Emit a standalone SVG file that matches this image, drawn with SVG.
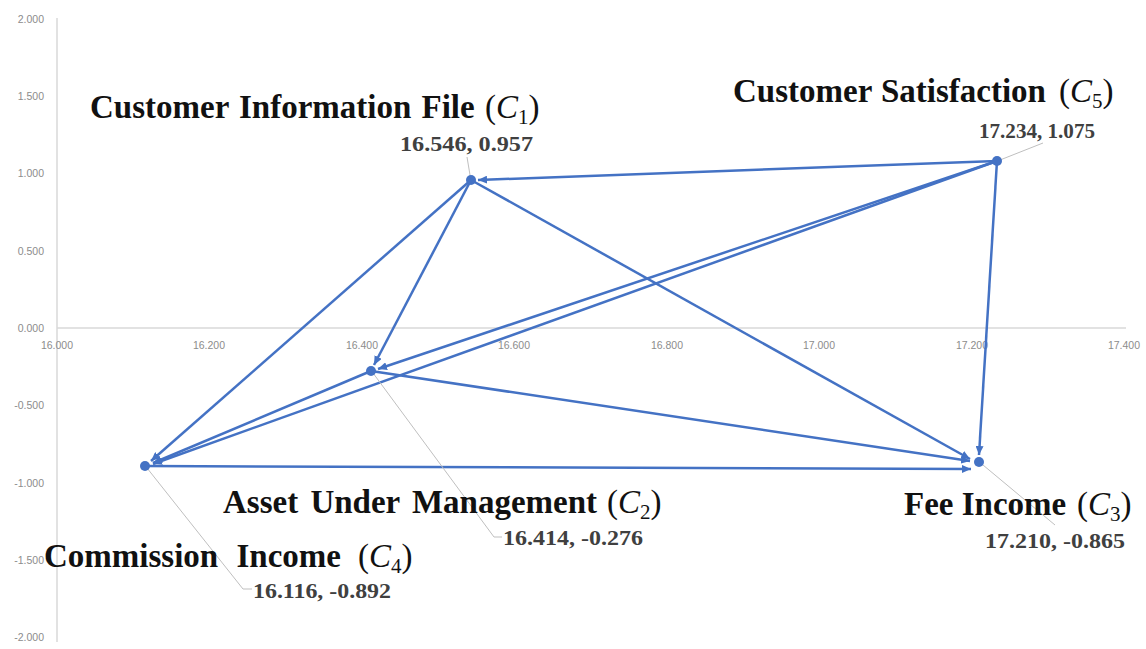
<svg xmlns="http://www.w3.org/2000/svg" width="1146" height="649" viewBox="0 0 1146 649">
<style>
.ax{stroke:#d9d9d9;stroke-width:1.5;fill:none}
.tk{font-family:"Liberation Sans",Arial,sans-serif;font-size:10.5px;fill:#8c8c8c}
.ty{text-anchor:end}
.tx{text-anchor:middle}
.e{stroke:#4472C4;stroke-width:2.5;fill:none;marker-end:url(#ah)}
.dot{fill:#4472C4}
.ld{stroke:#bfbfbf;stroke-width:1;fill:none}
.ttl{font-family:"Liberation Serif","Times New Roman",serif;font-weight:bold;font-size:33px;fill:#111}
.par{font-weight:normal}
.it{font-style:italic}
.val{font-family:"Liberation Serif","Times New Roman",serif;font-weight:bold;font-size:22px;fill:#404040}
</style>
<defs>
<marker id="ah" markerUnits="userSpaceOnUse" markerWidth="10" markerHeight="8" refX="9" refY="4" orient="auto">
<path d="M0,0 L9,4 L0,8 z" fill="#4472C4"/>
</marker>
</defs>
<rect width="1146" height="649" fill="#ffffff"/>
<g id="axes">
<line class="ax" x1="57" y1="18" x2="57" y2="642"/>
<line class="ax" x1="57" y1="328" x2="1126" y2="328"/>
<text class="tk ty" x="44" y="23">2.000</text>
<text class="tk ty" x="44" y="100">1.500</text>
<text class="tk ty" x="44" y="177">1.000</text>
<text class="tk ty" x="44" y="255">0.500</text>
<text class="tk ty" x="44" y="332">0.000</text>
<text class="tk ty" x="44" y="409">-0.500</text>
<text class="tk ty" x="44" y="487">-1.000</text>
<text class="tk ty" x="44" y="564">-1.500</text>
<text class="tk ty" x="44" y="641">-2.000</text>
<text class="tk tx" x="57" y="349">16.000</text>
<text class="tk tx" x="209" y="349">16.200</text>
<text class="tk tx" x="362" y="349">16.400</text>
<text class="tk tx" x="514" y="349">16.600</text>
<text class="tk tx" x="667" y="349">16.800</text>
<text class="tk tx" x="819" y="349">17.000</text>
<text class="tk tx" x="972" y="349">17.200</text>
<text class="tk tx" x="1124" y="349">17.400</text>
</g>
<g id="connectors">
<line class="e" x1="997" y1="161" x2="478" y2="180"/>
<line class="e" x1="471" y1="180" x2="151" y2="461"/>
<line class="e" x1="471" y1="180" x2="374" y2="365"/>
<line class="e" x1="471" y1="180" x2="970" y2="459"/>
<line class="e" x1="997" y1="161" x2="378" y2="369"/>
<line class="e" x1="997" y1="161" x2="153" y2="464"/>
<line class="e" x1="371" y1="371" x2="153" y2="463"/>
<line class="e" x1="371" y1="371" x2="970" y2="461"/>
<line class="e" x1="997" y1="161" x2="979" y2="455"/>
<line class="e" x1="145" y1="466" x2="971" y2="469"/>
</g>
<g id="C1">
<line class="ld" x1="470" y1="175" x2="467" y2="157"/>
<circle class="dot" cx="471" cy="180" r="5"/>
<text class="ttl" x="90" y="118" word-spacing="2">Customer Information File<tspan class="par" x="485">(</tspan><tspan class="par it">C</tspan><tspan class="par" font-size="21" dy="6">1</tspan><tspan class="par" dy="-6">)</tspan></text>
<text class="val" x="400" y="151" textLength="133" lengthAdjust="spacingAndGlyphs">16.546, 0.957</text>
</g>
<g id="C5">
<line class="ld" x1="1000" y1="160" x2="1043" y2="143"/>
<circle class="dot" cx="997" cy="161" r="5"/>
<text class="ttl" x="733" y="102" word-spacing="1">Customer Satisfaction<tspan class="par" x="1059">(</tspan><tspan class="par it">C</tspan><tspan class="par" font-size="21" dy="6">5</tspan><tspan class="par" dy="-6">)</tspan></text>
<text class="val" x="979" y="138" textLength="116" lengthAdjust="spacingAndGlyphs">17.234, 1.075</text>
</g>
<g id="C2">
<polyline class="ld" points="373,373 494,537 502,537"/>
<circle class="dot" cx="371" cy="371" r="5"/>
<text class="ttl" x="223" y="513" word-spacing="4">Asset Under Management<tspan class="par" x="607">(</tspan><tspan class="par it">C</tspan><tspan class="par" font-size="21" dy="6">2</tspan><tspan class="par" dy="-6">)</tspan></text>
<text class="val" x="503" y="545" textLength="140" lengthAdjust="spacingAndGlyphs">16.414, -0.276</text>
</g>
<g id="C3">
<line class="ld" x1="983" y1="465" x2="1055" y2="525"/>
<circle class="dot" cx="979" cy="462" r="5"/>
<text class="ttl" x="904" y="515">Fee Income<tspan class="par" x="1077">(</tspan><tspan class="par it">C</tspan><tspan class="par" font-size="21" dy="6">3</tspan><tspan class="par" dy="-6">)</tspan></text>
<text class="val" x="985" y="548" textLength="140" lengthAdjust="spacingAndGlyphs">17.210, -0.865</text>
</g>
<g id="C4">
<polyline class="ld" points="147,468 243,589 252,589"/>
<circle class="dot" cx="145" cy="466" r="5"/>
<text class="ttl" x="44" y="567" word-spacing="10">Commission Income<tspan class="par" x="358">(</tspan><tspan class="par it">C</tspan><tspan class="par" font-size="21" dy="6">4</tspan><tspan class="par" dy="-6">)</tspan></text>
<text class="val" x="253" y="598" textLength="138" lengthAdjust="spacingAndGlyphs">16.116, -0.892</text>
</g>
</svg>
